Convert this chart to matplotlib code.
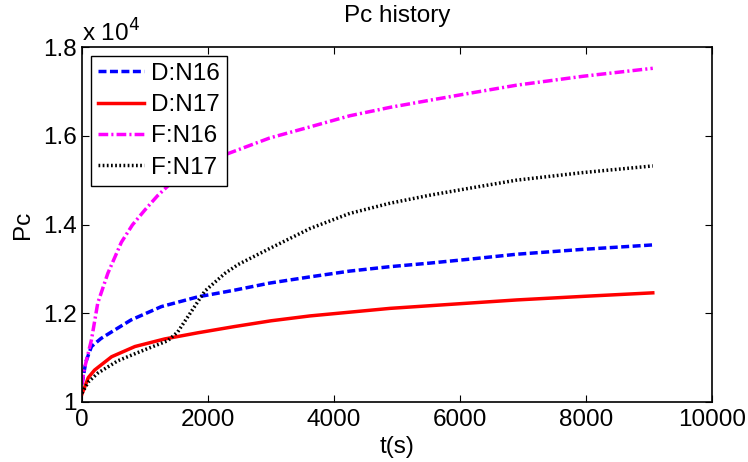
import numpy as np
import matplotlib.pyplot as plt
from matplotlib.ticker import FuncFormatter

plt.rcParams['font.family'] = ['Liberation Sans', 'DejaVu Sans']

# values, Pc in absolute units
t_d16 = [0, 60, 150, 300, 470, 780, 1260, 1840, 2420, 2980, 3620, 4250, 4890, 5520, 6160, 6900, 7950, 9060]
pc_d16 = [10400, 10900, 11250, 11430, 11580, 11850, 12150, 12370, 12520, 12680, 12820, 12950, 13050,
          13130, 13220, 13330, 13440, 13540]

t_d17 = [0, 100, 200, 470, 840, 1310, 1840, 2420, 3000, 3620, 4890, 5840, 6900, 7950, 9060]
pc_d17 = [10180, 10550, 10720, 11020, 11250, 11420, 11560, 11700, 11830, 11940, 12110, 12200, 12300,
          12380, 12460]

t_f16 = [0, 30, 150, 250, 410, 625, 800, 1000, 1200, 1410, 1800, 2265, 2980, 3620, 4250, 4890, 5520,
         6160, 6900, 7950, 9060]
pc_f16 = [10400, 10700, 11400, 12230, 12900, 13600, 13990, 14330, 14650, 14930, 15300, 15570, 15950,
          16200, 16450, 16640, 16800, 16960, 17140, 17340, 17520]

t_f17 = [0, 100, 250, 570, 1000, 1360, 1520, 1740, 1950, 2270, 2480, 2980, 3620, 4250, 4890, 5520,
         6160, 6900, 7950, 9060]
pc_f17 = [10200, 10450, 10650, 10930, 11180, 11380, 11580, 12050, 12500, 12900, 13100, 13460, 13910,
          14250, 14480, 14660, 14820, 15000, 15170, 15320]

W, H = 748, 462
fig = plt.figure(figsize=(W / 100, H / 100), dpi=100)
ax = fig.add_axes([82 / W, (H - 402) / H, (712 - 82) / W, (402 - 47) / H])

lw = 2.5
ax.plot(t_d16, pc_d16, color='#0000ff', lw=lw, dashes=(2.3, 1.0), dash_capstyle='butt', label='D:N16')
ax.plot(t_d17, pc_d17, color='#ff0000', lw=lw, linestyle='-', label='D:N17')
ax.plot(t_f16, pc_f16, color='#ff00ff', lw=lw, dashes=(2.8, 0.9, 0.6, 0.9), dash_capstyle='butt',
        label='F:N16')
ax.plot(t_f17, pc_f17, color='black', lw=lw, dashes=(0.5, 0.7), dash_capstyle='butt', label='F:N17')

ax.set_xlim(0, 10000)
ax.set_ylim(10000, 18000)
ax.set_xticks(np.arange(0, 10001, 2000))
ax.set_yticks(np.arange(10000, 18001, 2000))
ax.yaxis.set_major_formatter(FuncFormatter(lambda v, p: ('%g' % (v / 1e4))))

fs = 17.5
ax.tick_params(direction='in', length=5, width=0.8, top=True, right=True, labelsize=fs, pad=5)
ax.tick_params(axis='y', pad=4)
for s in ax.spines.values():
    s.set_linewidth(1.2)

ax.set_title('Pc history', fontsize=fs, pad=18)
ax.set_xlabel('t(s)', fontsize=fs, labelpad=4)
ax.set_ylabel('Pc', fontsize=fs, labelpad=6)
ax.text(0.0, 1.014, 'x 10$^4$', transform=ax.transAxes, fontsize=fs, ha='left', va='baseline')

leg = ax.legend(loc='upper left', fontsize=fs, fancybox=False, framealpha=1, edgecolor='black',
                handlelength=1.9, handletextpad=0.3, borderpad=0.3, labelspacing=0.38,
                borderaxespad=0.35)
leg.get_frame().set_linewidth(1.0)

fig.savefig('out.png', dpi=100)
